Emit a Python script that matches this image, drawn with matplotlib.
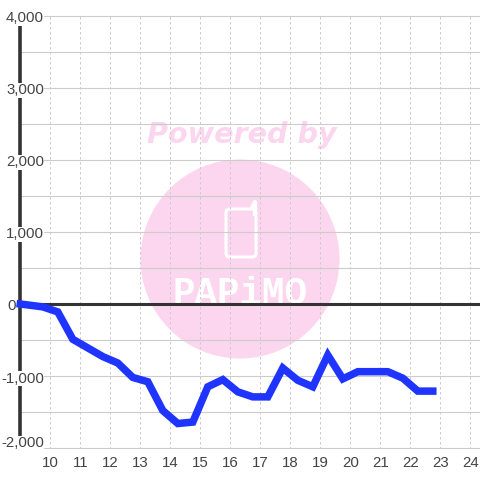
import matplotlib
matplotlib.use("Agg")
import matplotlib.pyplot as plt
from matplotlib.patches import Ellipse, FancyBboxPatch

plt.rcParams['font.family'] = ['Liberation Sans', 'DejaVu Sans']

# data
hours = [9.0, 9.75, 10.25, 10.75, 11.25, 11.75, 12.25, 12.75, 13.25, 13.75, 14.25, 14.75,
         15.25, 15.75, 16.25, 16.75, 17.25, 17.75, 18.25, 18.75, 19.25, 19.75, 20.25,
         20.75, 21.25, 21.75, 22.25, 22.75]
values = [0, -40, -110, -490, -610, -730, -820, -1020, -1080, -1480, -1660, -1640,
          -1150, -1050, -1220, -1290, -1290, -890, -1060, -1150, -710, -1040, -940,
          -940, -940, -1030, -1210, -1210]
x_ticks = list(range(10, 25))
y_major = [-2000, -1000, 0, 1000, 2000, 3000, 4000]
y_labels = ['-2,000', '-1,000', '0', '1,000', '2,000', '3,000', '4,000']
y_grid = list(range(-2000, 4001, 500))

W = 480.0
fig = plt.figure(figsize=(4.8, 4.8), dpi=100, facecolor='white')
ax = fig.add_axes([20 / W, (W - 448.72) / W, 460 / W, 433.44 / W])
ax.patch.set_visible(False)
ax.set_xlim(8.99, 24.323)
ax.set_ylim(-2010, 4010)

# watermark behind the axes
pink = '#fcd6ee'
fig.add_artist(Ellipse((240 / W, 1 - 259 / W), 199 / W, 199 / W, transform=fig.transFigure,
                       facecolor=pink, edgecolor='none', zorder=-3))
fig.text(242 / W, 1 - 135 / W, 'Powered by', family='DejaVu Sans', weight='bold', style='italic',
         fontsize=20.6, color=pink, ha='center', va='center', zorder=-3)
fig.add_artist(FancyBboxPatch((226 / W, 1 - 257 / W), 30 / W, 48 / W, boxstyle='round,pad=0,rounding_size=0.008',
                              transform=fig.transFigure, facecolor='none', edgecolor='white',
                              linewidth=2.2, zorder=-2))
fig.add_artist(plt.Line2D([252 / W, 255 / W, 255 / W], [1 - 208 / W, 1 - 202 / W, 1 - 214 / W],
                          color='white', linewidth=3, zorder=-2))
fig.text(240 / W, 1 - 304 / W, 'PAPiMO', family='Liberation Mono', weight='bold', fontsize=27, color='white',
         ha='center', va='baseline', zorder=-2)

# grid
ax.set_xticks(x_ticks)
ax.set_yticks(y_grid)
ax.set_yticklabels([])
ax.tick_params(length=0, labelsize=10.8, labelcolor='#444444', pad=5)
ax.grid(True, axis='y', color='#cccccc', linewidth=0.8)
ax.grid(True, axis='x', color='#cccccc', linewidth=0.72, linestyle=(0, (2.5, 2.5)))
ax.set_axisbelow(True)

for s in ['top', 'right', 'bottom']:
    ax.spines[s].set_visible(False)
ax.spines['left'].set_color('#333333')
ax.spines['left'].set_linewidth(2.6)
ax.spines['left'].set_bounds(-2000, 4000)

ax.axhline(0, color='#333333', linewidth=2.2, zorder=2.4)

# blue line
ax.plot(hours, values, color='#1f35ff', linewidth=5.4, solid_joinstyle='miter',
        solid_capstyle='projecting', zorder=3, clip_on=False)

# y labels sit on white boxes that cut the axis line
for v, lab in zip(y_major, y_labels):
    dx, dy = 24, -6.5
    if v == 0:
        dx = -4
    if v == -2000:
        dy = 1
    ax.annotate(lab, xy=(ax.get_xlim()[0], v), xycoords='data', xytext=(dx, dy), textcoords='offset pixels',
                ha='right', va='baseline', fontsize=10.8, color='#444444', zorder=5,
                bbox=dict(facecolor='white', edgecolor='none', pad=0.3))

plt.savefig('out.png', dpi=100)
